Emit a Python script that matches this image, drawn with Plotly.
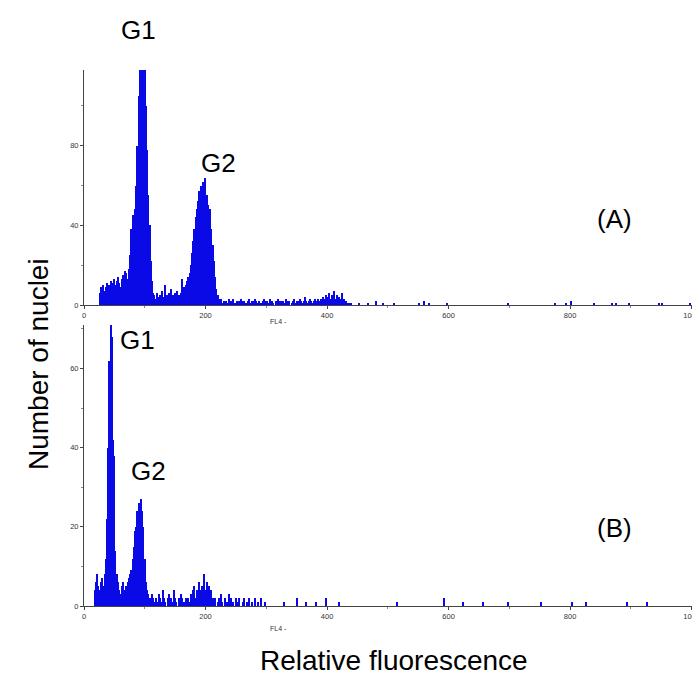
import plotly.graph_objects as go

# ---------------- data (counts per 2-channel bin, FL4 channel) ----------------
BIN = 2
# Panel A
a_debris_start = 26
a_debris = [6, 9, 8, 10, 7, 9, 11, 8, 10, 12, 9, 11, 13, 10, 12, 14, 11, 9, 13, 15, 12, 17, 16, 13, 18]
a_g1_start = 76
a_g1 = [25, 38, 45, 42, 48, 60, 80, 105, 125, 135, 140, 135, 122, 100, 78, 55, 40, 22, 12, 6]
a_valley_start = 116
a_valley = [5, 3, 6, 4, 2, 5, 7, 3, 4, 10, 5, 3, 6, 4, 8, 5, 3, 6, 4, 7, 5, 3, 6, 13, 9]
a_g2_start = 166
a_g2 = [8, 10, 12, 14, 16, 20, 26, 32, 38, 44, 48, 52, 57, 60, 52, 62, 58, 64, 55, 50, 46, 48, 38, 30, 22, 14, 8, 5, 3]
a_tail_start = 224
a_tail = [2, 3, 1, 2, 0, 2, 1, 3, 2, 1, 2, 3, 1, 0, 2, 1, 2, 3, 1, 2, 2, 1, 0, 2, 3, 1, 2, 1, 2, 3,
          2, 1, 2, 0, 1, 2, 3, 2, 1, 2, 1, 3, 2, 2, 1, 0, 2, 1, 3, 2, 1, 2, 2, 1, 3, 2, 1, 2, 0, 1,
          2, 3, 1, 2, 2, 1, 3, 2, 1, 2, 4, 2, 1, 2, 3, 2, 1, 2, 3, 2, 1, 3, 2]
a_cluster_start = 390
a_cluster = [3, 2, 4, 3, 5, 2, 4, 6, 3, 5, 4, 7, 3, 5, 2, 4, 3, 6, 2, 3, 1, 2, 1, 0, 1, 1]
a_sparse_ch = [453, 468, 481, 493, 511, 552, 560, 568, 598, 698, 775, 794, 802, 840, 869, 876, 897, 946, 951, 998, 1003]
a_sparse_n = [1, 1, 2, 1, 1, 1, 2, 1, 1, 1, 1, 1, 2, 1, 1, 1, 1, 1, 1, 1, 1]
a_end_ch, a_end_n = 1022, 26

# Panel B
b_debris_start = 18
b_debris = [4, 6, 8, 5, 4, 6, 7, 5, 8]
b_g1_start = 36
b_g1 = [12, 22, 40, 62, 71, 68, 42, 38, 14, 8, 6]
b_valley_start = 58
b_valley = [4, 3, 5, 6, 3, 4, 5]
b_g2_start = 72
b_g2 = [6, 7, 8, 9, 12, 15, 19, 20, 24, 26, 23, 27, 24, 20, 12, 6, 4, 3]
b_tail_start = 108
b_tail = [2, 1, 3, 2, 1, 2, 0, 1, 3, 2, 1, 4, 2, 1, 0, 2, 3, 1, 2, 1, 4, 2, 1, 0, 2, 1, 3, 2, 1, 0, 2, 1, 2, 1]
b_cluster_start = 176
b_cluster = [3, 2, 4, 5, 2, 4, 3, 6, 4, 5, 3, 8, 4, 6, 3, 5, 2, 4, 2, 1]
b_late_start = 216
b_late = [2, 0, 1, 2, 0, 3, 1, 0, 2, 0, 1, 3, 0, 2, 0, 1, 0, 2, 1, 0, 2, 0, 0, 1, 2, 0, 1, 0, 2, 0,
          1, 0, 0, 2, 0, 1, 0, 0, 2, 0, 0, 1, 0]
b_sparse_ch = [330, 350, 366, 382, 399, 420, 516, 592, 624, 657, 698, 753, 804, 827, 894, 926]
b_sparse_n = [1, 2, 1, 1, 2, 1, 1, 2, 1, 1, 1, 1, 1, 1, 1, 1]
b_end_ch, b_end_n = 1022, 9

x_ticks = [0, 200, 400, 600, 800, 1000]
a_y_ticks = [0, 40, 80]
b_y_ticks = [0, 20, 40, 60]


def seg(start, vals):
    return [start + BIN * i for i in range(len(vals))], list(vals)


def panel(segments, sparse_ch, sparse_n):
    xs, ys = [], []
    for s, v in segments:
        x, y = seg(s, v)
        xs += x
        ys += y
    xs += sparse_ch
    ys += sparse_n
    return xs, ys


ax, ay = panel([(a_debris_start, a_debris), (a_g1_start, a_g1), (a_valley_start, a_valley),
                (a_g2_start, a_g2), (a_tail_start, a_tail), (a_cluster_start, a_cluster)],
               a_sparse_ch, a_sparse_n)
bx, by = panel([(b_debris_start, b_debris), (b_g1_start, b_g1), (b_valley_start, b_valley),
                (b_g2_start, b_g2), (b_tail_start, b_tail), (b_cluster_start, b_cluster),
                (b_late_start, b_late)],
               b_sparse_ch, b_sparse_n)

BLUE = "#0A0AE6"
bar_style = dict(marker=dict(color=BLUE, line=dict(width=0)), showlegend=False, hoverinfo="x+y")
fig = go.Figure()
fig.add_trace(go.Bar(x=ax, y=ay, width=BIN, xaxis="x", yaxis="y", **bar_style))
fig.add_trace(go.Bar(x=[a_end_ch], y=[a_end_n], width=4, xaxis="x", yaxis="y", **bar_style))
fig.add_trace(go.Bar(x=bx, y=by, width=BIN, xaxis="x2", yaxis="y2", **bar_style))
fig.add_trace(go.Bar(x=[b_end_ch], y=[b_end_n], width=4, xaxis="x2", yaxis="y2", **bar_style))

W, H = 700, 675
L, R, T, B = 76, 0, 62, 77
PW, PH = W - L - R, H - T - B


def px(x):
    return (x - L) / PW


def py(y):
    return (H - B - y) / PH


tickfont = dict(family="Liberation Sans, Arial, sans-serif", size=7.5, color="#333")
axis_common = dict(showgrid=False, zeroline=False, showline=True, linecolor="#444", linewidth=1,
                   ticks="outside", ticklen=3, tickcolor="#444", tickfont=tickfont)

XR = [0, 1027]
fig.update_layout(
    width=W, height=H,
    margin=dict(l=L, r=R, t=T, b=B),
    plot_bgcolor="white", paper_bgcolor="white",
    bargap=0, barmode="overlay",
    xaxis=dict(domain=[0, 1], range=XR, anchor="y", tickvals=x_ticks,
               minor=dict(dtick=100, ticklen=2, ticks="outside", tickcolor="#888"), **axis_common),
    yaxis=dict(domain=[py(297), 1], range=[0, 118], anchor="x", tickvals=a_y_ticks,
               minor=dict(dtick=20, ticklen=2, ticks="outside", tickcolor="#888"), **axis_common),
    xaxis2=dict(domain=[0, 1], range=XR, anchor="y2", tickvals=x_ticks,
                minor=dict(dtick=100, ticklen=2, ticks="outside", tickcolor="#888"), **axis_common),
    yaxis2=dict(domain=[0, py(317)], range=[0, 71], anchor="x2", tickvals=b_y_ticks,
                minor=dict(dtick=10, ticklen=2, ticks="outside", tickcolor="#888"), **axis_common),
)

label_font = dict(family="Liberation Sans, Arial, sans-serif", size=26, color="black")
title_font = dict(family="Liberation Sans, Arial, sans-serif", size=28, color="black")
labels = [
    ("G1", 130, 22), ("G2", 210, 155), ("(A)", 606, 211),
    ("G1", 129, 332), ("G2", 140, 463), ("(B)", 606, 520),
]
for text, x, y in labels:
    fig.add_annotation(text=text, x=px(x), y=py(y), xref="paper", yref="paper",
                       showarrow=False, font=label_font, xanchor="center", yanchor="middle")

small = dict(family="Liberation Sans, Arial, sans-serif", size=7, color="#333")
for y in (313, 620):
    fig.add_annotation(text="FL4 -", x=px(270), y=py(y), xref="paper", yref="paper",
                       showarrow=False, font=small, xanchor="center", yanchor="middle")

fig.add_annotation(text="Number of nuclei", x=px(30), y=py(356), xref="paper", yref="paper",
                   showarrow=False, textangle=-90, font=title_font, xanchor="center", yanchor="middle")
fig.add_annotation(text="Relative fluorescence", x=px(386), y=py(652), xref="paper", yref="paper",
                   showarrow=False, font=title_font, xanchor="center", yanchor="middle")

fig.write_html("out.html")
